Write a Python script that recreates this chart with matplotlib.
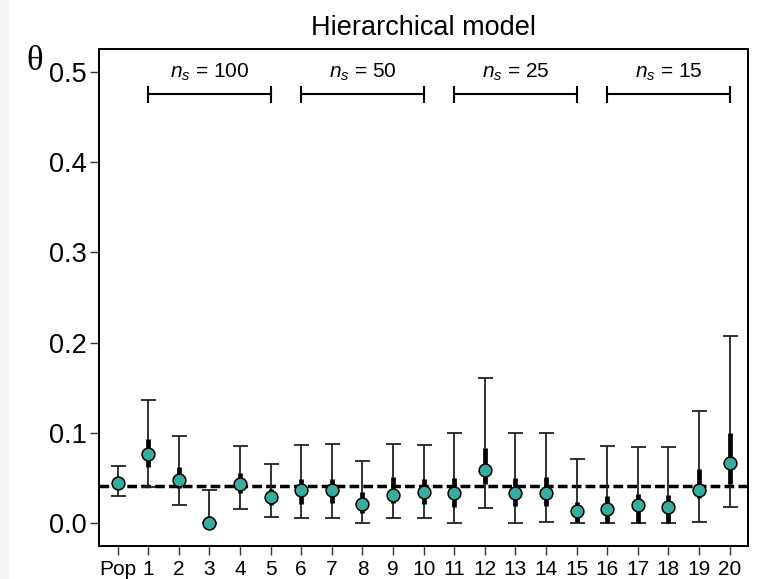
import numpy as np
import matplotlib
matplotlib.use("Agg")
import matplotlib.pyplot as plt
from matplotlib.patches import Rectangle

plt.rcParams['font.family'] = ['Liberation Sans', 'DejaVu Sans']
plt.rcParams['mathtext.fontset'] = 'custom'
plt.rcParams['mathtext.rm'] = 'Liberation Sans'
plt.rcParams['mathtext.it'] = 'Liberation Sans:italic'

# site labels and posterior summaries
labels = ['Pop'] + [str(i) for i in range(1, 21)]
est = [0.0446, 0.0767, 0.048, 0.001, 0.044, 0.0295, 0.037, 0.037, 0.022, 0.031,
       0.035, 0.034, 0.059, 0.034, 0.034, 0.014, 0.016, 0.020, 0.0185, 0.0376, 0.0667]
lo95 = [0.030, 0.040, 0.021, 0.0, 0.016, 0.007, 0.006, 0.006, 0.0, 0.006,
        0.006, 0.001, 0.017, 0.001, 0.002, 0.0, 0.0, 0.0, 0.0, 0.002, 0.018]
hi95 = [0.064, 0.137, 0.097, 0.037, 0.086, 0.066, 0.087, 0.088, 0.069, 0.088,
        0.087, 0.100, 0.161, 0.100, 0.100, 0.071, 0.086, 0.085, 0.085, 0.125, 0.207]
lo50 = [0.038, 0.062, 0.039, 0.0, 0.034, 0.021, 0.022, 0.023, 0.012, 0.023,
        0.022, 0.018, 0.044, 0.019, 0.019, 0.002, 0.001, 0.001, 0.001, 0.028, 0.044]
hi50 = [0.051, 0.094, 0.063, 0.008, 0.056, 0.038, 0.049, 0.049, 0.035, 0.051,
        0.049, 0.050, 0.084, 0.050, 0.051, 0.024, 0.030, 0.033, 0.032, 0.060, 0.100]
pop_true = 0.041

group_n = [100, 50, 25, 15]
group_first = [1, 6, 11, 16]
group_last = [5, 10, 15, 20]

x = np.arange(len(labels))
est = np.array(est)
lo95, hi95 = np.array(lo95), np.array(hi95)
lo50, hi50 = np.array(lo50), np.array(hi50)

fig = plt.figure(figsize=(7.58, 5.79), dpi=100)
fig.patches.append(Rectangle((0, 0), 8 / 758, 1, transform=fig.transFigure,
                             color='#f4f5f7', zorder=0))
ax = fig.add_axes([99 / 758, 1 - 546 / 579, 649 / 758, 497 / 579])

ax.axhline(pop_true, color='black', lw=2.5, ls=(0, (2.8, 1.2)), zorder=2)

ax.errorbar(x, est, yerr=[est - lo95, hi95 - est], fmt='none', ecolor='#222222',
            elinewidth=1.3, capsize=5.4, capthick=1.3, zorder=3)
ax.vlines(x, lo50, hi50, color='black', lw=3.4, zorder=4)
ax.plot(x, est, 'o', ms=9.2, mfc='#3aab9f', mec='black', mew=1.1, zorder=5)

yb = 0.475
for n, a, b in zip(group_n, group_first, group_last):
    ax.plot([a, b], [yb, yb], color='black', lw=1.5, zorder=3)
    ax.vlines([a, b], yb - 0.0094, yb + 0.0094, color='black', lw=1.5)
    ax.text((a + b) / 2, 0.4934, r'$n_s$' + ' = ' + str(n), ha='center',
            va='baseline', fontsize=15)

ax.set_xlim(-0.61, 20.6)
ax.set_ylim(-0.0249, 0.525)
ax.set_xticks(x)
ax.set_xticklabels(labels, fontsize=15)
ax.set_yticks([0.0, 0.1, 0.2, 0.3, 0.4, 0.5])
ax.set_yticklabels(['0.0', '0.1', '0.2', '0.3', '0.4', '0.5'], fontsize=19.5)
ax.tick_params(axis='both', direction='out', length=6.3, width=1.0, color='#333333')
ax.tick_params(axis='x', pad=3.5)
ax.tick_params(axis='y', pad=2.5)
for s in ax.spines.values():
    s.set_linewidth(1.45)

ax.set_title('Hierarchical model', fontsize=19.5, pad=10)
fig.text(35 / 758, 1 - 62 / 579, 'θ', fontsize=25, family='Liberation Serif',
         ha='center', va='center')

fig.savefig('out.png', dpi=100)
